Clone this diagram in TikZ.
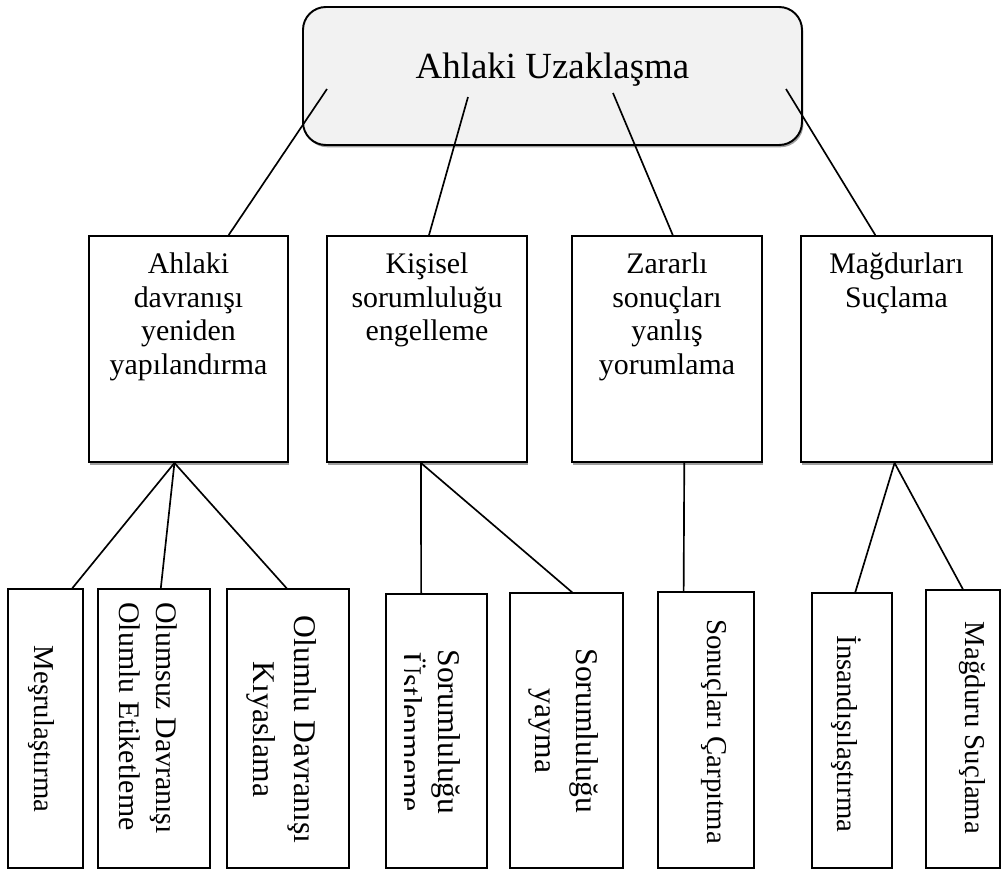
\documentclass[tikz,border=0pt]{standalone}
\usepackage{fontspec}
\setmainfont{Liberation Serif}
\usetikzlibrary{calc,shadows}

\newcommand{\pxu}{0.02cm}

\tikzset{
  topbox/.style={draw, line width=1.1pt, rounded corners=13pt, fill=gray!10, inner sep=0pt,
    drop shadow={shadow xshift=0.8pt, shadow yshift=-1.3pt, fill=gray!75, opacity=1}},
  midbox/.style={draw, line width=1.1pt, fill=white, inner sep=0pt, minimum height=226*\pxu,
    drop shadow={shadow xshift=0.4pt, shadow yshift=-1.5pt, fill=gray!75, opacity=1}},
  lowbox/.style={draw, line width=0.7pt, fill=white, inner sep=0pt},
  midtext/.style={font=\fontsize{17}{19.1}\selectfont, align=center, inner sep=0pt, anchor=north},
  lowtext/.style={font=\fontsize{16.4}{19.1}\selectfont, rotate=-90, align=center, inner sep=0pt, anchor=north},
  lowbig/.style={font=\fontsize{18}{23.2}\selectfont},
  link/.style={line width=0.95pt},
}

\begin{document}
\begin{tikzpicture}[x=\pxu, y=-\pxu]
  \useasboundingbox (0,0) rectangle (1002,869);

  % top box
  \node[topbox, minimum width=499*\pxu, minimum height=138*\pxu] (top) at (552.5,76) {};
  \node[font=\fontsize{21}{25}\selectfont, anchor=base, inner sep=0pt] (toptext) at (552.5,78) {Ahlaki Uzaklaşma};

  % middle boxes
  \node[midbox, minimum width=199*\pxu] (m1) at (188.5,349) {};
  \node[midbox, minimum width=200*\pxu] (m2) at (427,349) {};
  \node[midbox, minimum width=190*\pxu] (m3) at (667,349) {};
  \node[midbox, minimum width=191*\pxu] (m4) at (896.5,349) {};

  \node[midtext] (m1t) at (188.5,252.5) {Ahlaki\\davranışı\\yeniden\\yapılandırma};
  \node[midtext] (m2t) at (427,252.5) {Kişisel\\sorumluluğu\\engelleme};
  \node[midtext] (m3t) at (667,252.5) {Zararlı\\sonuçları\\yanlış\\yorumlama};
  \node[midtext] (m4t) at (896.5,252.5) {Mağdurları\\Suçlama};

  % bottom boxes
  \node[lowbox, minimum width=75*\pxu, minimum height=279*\pxu] (b1) at (45.5,728.5) {};
  \node[lowbox, minimum width=112*\pxu, minimum height=279*\pxu] (b2) at (154,728.5) {};
  \node[lowbox, minimum width=122*\pxu, minimum height=279*\pxu] (b3) at (288,728.5) {};
  \node[lowbox, minimum width=101*\pxu, minimum height=274*\pxu] (b4) at (436.5,731) {};
  \node[lowbox, minimum width=113*\pxu, minimum height=275*\pxu] (b5) at (566.5,730.5) {};
  \node[lowbox, minimum width=96*\pxu, minimum height=276*\pxu] (b6) at (706,730) {};
  \node[lowbox, minimum width=80*\pxu, minimum height=275*\pxu] (b7) at (852,730.5) {};
  \node[lowbox, minimum width=74*\pxu, minimum height=278*\pxu] (b8) at (963,729) {};

  \node[lowtext] (b1t) at (55,729) {Meşrulaştırma};
  \node[lowtext, font=\fontsize{17}{21.5}\selectfont, align=left, anchor=north west] (b2t) at (178,602) {Olumsuz Davranışı\\Olumlu Etiketleme};
  \node[lowtext, lowbig] (b3t) at (317,729.5) {Olumlu Davranışı\\Kıyaslama};
  \begin{scope}
    \clip (404,594) rectangle (487,868);
    \node[lowtext, lowbig, font=\fontsize{18}{21.5}\selectfont] (b4t) at (461,732) {Sorumluluğu\\Üstlenmeme};
  \end{scope}
  \node[lowtext, lowbig] (b5t) at (599,731) {Sorumluluğu\\yayma};
  \node[lowtext] (b6t) at (728,731.5) {Sonuçları Çarpıtma};
  \node[lowtext] (b7t) at (862,734) {İnsandışılaştırma};
  \node[lowtext] (b8t) at (986,728) {Mağduru Suçlama};

  % links from the top box
  \coordinate (u1) at (327,89);
  \coordinate (u2) at (468,97);
  \coordinate (u3) at (613,93);
  \coordinate (u4) at (786,89);
  \draw[link] (u1) -- ($(m1.north west)!0.70!(m1.north east)$);
  \draw[link] (u2) -- ($(m2.north west)!0.51!(m2.north east)$);
  \draw[link] (u3) -- ($(m3.north west)!0.53!(m3.north east)$);
  \draw[link] (u4) -- ($(m4.north west)!0.39!(m4.north east)$);

  % links to the bottom boxes
  \draw[link] ($(m1.south west)!0.43!(m1.south east)$) -- ($(b1.north west)!0.85!(b1.north east)$);
  \draw[link] ($(m1.south west)!0.43!(m1.south east)$) -- ($(b2.north west)!0.56!(b2.north east)$);
  \draw[link] ($(m1.south west)!0.43!(m1.south east)$) -- ($(b3.north west)!0.49!(b3.north east)$);
  \draw[link] ($(m2.south west)!0.47!(m2.south east)$) -- ($(b4.north west)!0.35!(b4.north east)$);
  \draw[link] ($(m2.south west)!0.47!(m2.south east)$) -- ($(b5.north west)!0.55!(b5.north east)$);
  \draw[link] ($(m3.south west)!0.59!(m3.south east)$) -- ($(b6.north west)!0.27!(b6.north east)$);
  \draw[link] ($(m4.south west)!0.49!(m4.south east)$) -- ($(b7.north west)!0.54!(b7.north east)$);
  \draw[link] ($(m4.south west)!0.49!(m4.south east)$) -- ($(b8.north west)!0.50!(b8.north east)$);

\end{tikzpicture}
\end{document}
